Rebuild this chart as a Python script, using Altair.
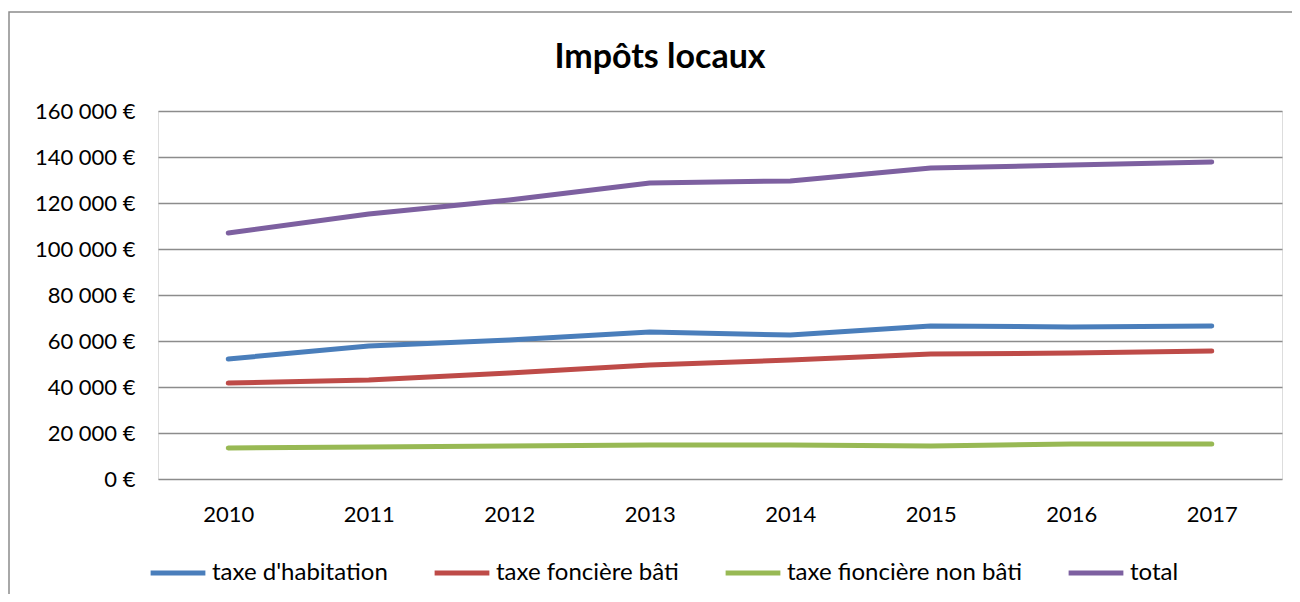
import altair as alt
import pandas as pd

years = ["2010", "2011", "2012", "2013", "2014", "2015", "2016", "2017"]
series = ["taxe d'habitation", "taxe foncière bâti", "taxe fioncière non bâti", "total"]
habitation = [52200, 57800, 60400, 63900, 62600, 66500, 66100, 66500]
fonciere_bati = [41700, 43000, 46100, 49600, 51700, 54300, 54800, 55600]
fonciere_non_bati = [13500, 13900, 14300, 14800, 14800, 14300, 15200, 15200]
total = [107000, 115200, 121300, 128700, 129600, 135200, 136500, 137800]
colors = ["#4A7EBB", "#BE4B48", "#98B954", "#7D60A0"]
title_text = "Impôts locaux"

rows = []
for name, vals in zip(series, [habitation, fonciere_bati, fonciere_non_bati, total]):
    for y, v in zip(years, vals):
        rows.append({"annee": y, "serie": name, "valeur": v})
df = pd.DataFrame(rows)

FONT = "Lato"
FS = 22

lines = alt.Chart(df).mark_line(strokeWidth=5, strokeCap="round", strokeJoin="round").encode(
    x=alt.X("annee:N", sort=years, title=None,
            scale=alt.Scale(paddingInner=0, paddingOuter=0.5),
            axis=alt.Axis(labelAngle=0, ticks=False, domain=False, grid=False,
                          labelFontSize=FS, labelPadding=25, labelFont=FONT, labelColor="#000")),
    y=alt.Y("valeur:Q", title=None,
            scale=alt.Scale(domain=[0, 160000], nice=False),
            axis=alt.Axis(values=list(range(0, 160001, 20000)), ticks=False, domain=False,
                          gridColor="#8C8C8C", gridWidth=1.5,
                          labelExpr="replace(format(datum.value, ','), ',', ' ') + ' €'",
                          labelFontSize=FS, labelPadding=23, labelFont=FONT, labelColor="#000")),
    color=alt.Color("serie:N", sort=series,
                    scale=alt.Scale(domain=series, range=colors),
                    legend=alt.Legend(title=None, orient="none", direction="horizontal",
                                      legendX=-10, legendY=432,
                                      symbolType="stroke", symbolStrokeWidth=5, symbolSize=3000,
                                      labelFontSize=24, labelFont=FONT, labelColor="#000",
                                      labelLimit=400, labelOffset=4, columnPadding=36)),
)

border = alt.Chart(pd.DataFrame({"a": [0]})).mark_rect(
    fill=None, stroke="#8C8C8C", strokeWidth=1.5, clip=False
).encode(x=alt.value(-149), x2=alt.value(1139), y=alt.value(-99), y2=alt.value(600))

title = alt.Chart(pd.DataFrame({"t": [title_text]})).mark_text(
    font=FONT, fontSize=34, fontWeight="bold", color="#000", align="center", baseline="alphabetic"
).encode(text="t:N", x=alt.value(502), y=alt.value(-43))

chart = alt.layer(border, title, lines).properties(
    width=1124, height=368,
    autosize=alt.AutoSizeParams(type="none"),
    padding={"left": 150, "top": 103, "right": 10, "bottom": 115},
).configure_view(stroke=None).configure(background="white")

chart.save("out.html", embed_options={"renderer": "svg", "actions": False})
